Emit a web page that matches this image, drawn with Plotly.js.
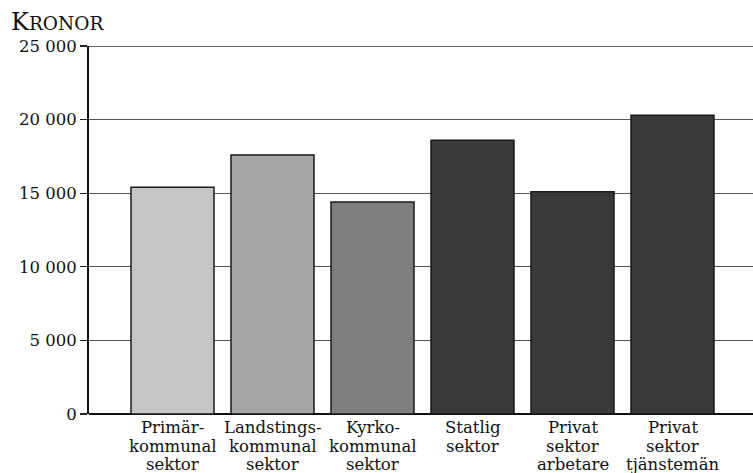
<!DOCTYPE html>
<html>
<head>
<meta charset="utf-8">
<script src="https://cdn.plot.ly/plotly-3.0.1.min.js"></script>
<style>html,body{margin:0;padding:0;background:#fff;}#chart{width:753px;height:473px;}</style>
</head>
<body>
<div id="chart"></div>
<script>
// Data
var categories = ["Primär-kommunal sektor", "Landstings-kommunal sektor", "Kyrko-kommunal sektor", "Statlig sektor", "Privat sektor arbetare", "Privat sektor tjänstemän"];
var labelLines = [
  ["Primär-", "kommunal", "sektor"],
  ["Landstings-", "kommunal", "sektor"],
  ["Kyrko-", "kommunal", "sektor"],
  ["Statlig", "sektor"],
  ["Privat", "sektor", "arbetare"],
  ["Privat", "sektor", "tjänstemän"]
];
var values = [15400, 17600, 14400, 18600, 15100, 20300];
var barColors = ["#c6c6c6", "#a6a6a6", "#7e7e7e", "#393939", "#393939", "#393939"];
var yTickVals = [0, 5000, 10000, 15000, 20000, 25000];
var yTickText = ["0", "5 000", "10 000", "15 000", "20 000", "25 000"];
var yMax = 25000;
var yTitleBig = "K";
var yTitleSmall = "RONOR";

var serif = "DejaVu Serif";

var annotations = [];
labelLines.forEach(function (lines, ci) {
  lines.forEach(function (ln, li) {
    annotations.push({
      xref: "x", yref: "y", x: categories[ci], y: 0,
      xanchor: "center", yanchor: "top",
      yshift: -3 - li * 18.5,
      borderpad: 0,
      text: ln, showarrow: false,
      font: {family: serif, size: 16.5, color: "#111"}
    });
  });
});
annotations.push({
  xref: "paper", yref: "paper", x: 0, y: 1,
  xanchor: "left", yanchor: "bottom", xshift: -80, yshift: 8,
  text: yTitleBig + '<span style="font-size:18.5px">' + yTitleSmall + '</span>',
  showarrow: false,
  font: {family: serif, size: 24, color: "#111"}
});

var trace = {
  type: "bar",
  x: categories,
  y: values,
  width: 0.83,
  marker: {color: barColors, line: {color: "#1a1a1a", width: 1.5}},
  hoverinfo: "skip"
};

var layout = {
  width: 753, height: 473,
  margin: {l: 89, r: 0, t: 46, b: 59, pad: 0},
  paper_bgcolor: "#fff", plot_bgcolor: "#fff",
  font: {family: serif, color: "#111"},
  showlegend: false,
  xaxis: {
    type: "category",
    range: [-0.835, 5.805],
    showticklabels: false,
    ticks: "",
    showgrid: false,
    showline: false,
    zeroline: false,
    fixedrange: true
  },
  yaxis: {
    range: [0, yMax],
    tickvals: yTickVals,
    ticktext: yTickText,
    ticks: "outside",
    ticklen: 7,
    tickwidth: 1.3,
    tickcolor: "#222",
    showgrid: true,
    gridcolor: "#555",
    gridwidth: 1,
    showline: true,
    linecolor: "#111",
    linewidth: 2,
    zeroline: true,
    zerolinecolor: "#111",
    zerolinewidth: 2,
    tickfont: {family: serif, size: 16.5, color: "#111"},
    fixedrange: true
  },
  shapes: [{
    type: "line", layer: "below",
    xref: "paper", yref: "y", x0: 0, x1: 1, y0: yMax, y1: yMax,
    line: {color: "#333", width: 1.5}
  }],
  annotations: annotations
};

Plotly.newPlot("chart", [trace], layout, {staticPlot: true, displayModeBar: false});
</script>
</body>
</html>
